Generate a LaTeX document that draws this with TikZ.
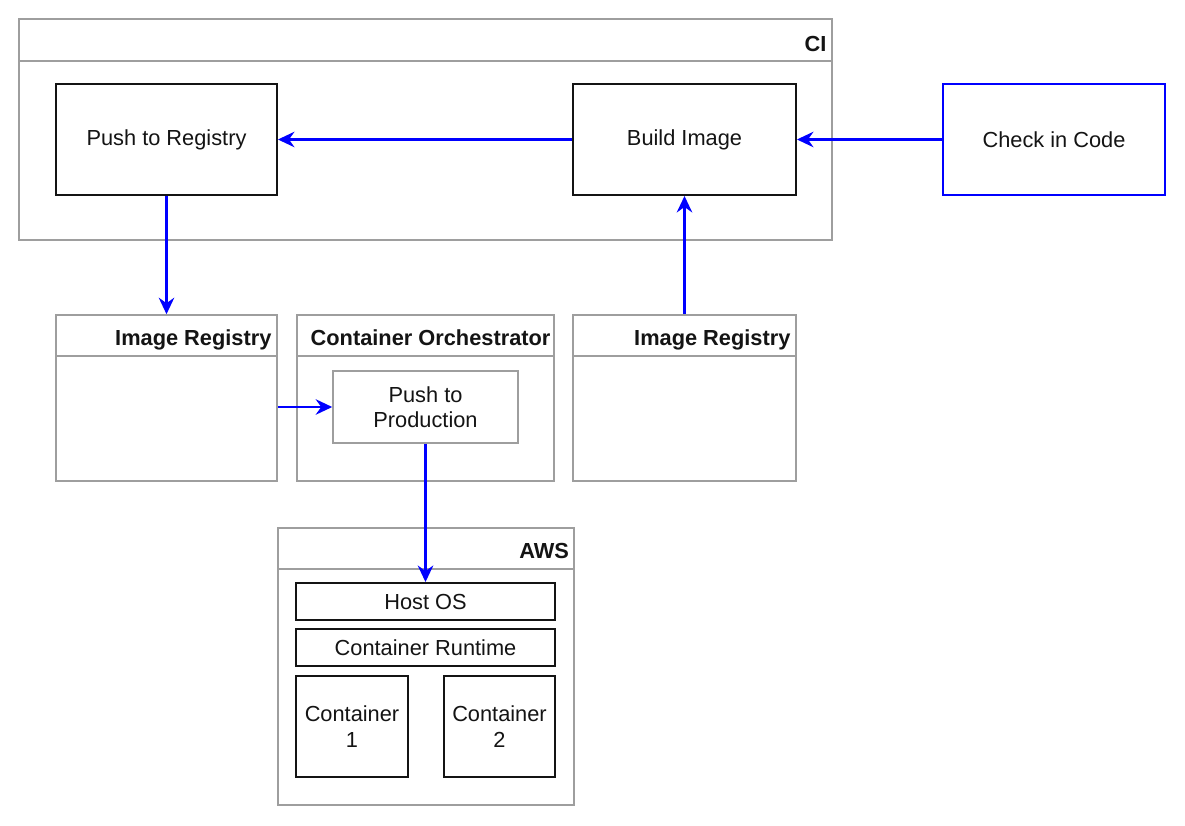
\documentclass[tikz,border=0pt]{standalone}
\usepackage{fontspec}
\setmainfont{Liberation Sans}
\usetikzlibrary{arrows.meta,positioning,calc}
\definecolor{flowblue}{HTML}{0000FF}
\definecolor{framegray}{HTML}{9E9E9E}
\definecolor{inkblack}{HTML}{141414}

\begin{document}
\begin{tikzpicture}[
    font=\fontsize{12.4}{14.4}\selectfont,
    >={Stealth[length=3.3mm, width=3.1mm, inset=1.1mm]},
    pool/.style={draw=framegray, line width=0.9pt, rectangle, inner sep=0pt},
    pooltitle/.style={font=\fontsize{12.4}{14.4}\selectfont\bfseries, anchor=base east,
                      inner sep=0pt, text=inkblack},
    header/.style={draw=framegray, line width=0.9pt},
    task/.style={draw=inkblack, line width=1.1pt, rectangle, align=center,
                 inner sep=2pt, text=inkblack},
    source/.style={task, draw=flowblue},
    soft/.style={task, draw=framegray, line width=0.9pt},
    flow/.style={->, draw=flowblue, line width=1.4pt},
]
    \useasboundingbox[fill=white] (0,0) rectangle (23.7,16.5);

    % ============================================================
    %  POOLS (titled frames)
    % ============================================================
    \node[pool, minimum width=16.26cm, minimum height=4.42cm] (ci)   at (8.51,13.91) {};
    \node[pool, minimum width=4.42cm,  minimum height=3.32cm] (regL) at (3.33,8.54)  {};
    \node[pool, minimum width=5.14cm,  minimum height=3.32cm] (orch) at (8.51,8.54)  {};
    \node[pool, minimum width=4.46cm,  minimum height=3.32cm] (regR) at (13.69,8.54) {};
    \node[pool, minimum width=5.92cm,  minimum height=5.54cm] (aws)  at (8.52,3.17)  {};

    % header rules
    \draw[header] ($(ci.north west)+(0,-0.86)$)   -- ($(ci.north east)+(0,-0.86)$);
    \draw[header] ($(regL.north west)+(0,-0.84)$) -- ($(regL.north east)+(0,-0.84)$);
    \draw[header] ($(orch.north west)+(0,-0.84)$) -- ($(orch.north east)+(0,-0.84)$);
    \draw[header] ($(regR.north west)+(0,-0.84)$) -- ($(regR.north east)+(0,-0.84)$);
    \draw[header] ($(aws.north west)+(0,-0.84)$)  -- ($(aws.north east)+(0,-0.84)$);

    % pool titles (right aligned on the baseline)
    \node[pooltitle] (citxt)   at ($(ci.north east)+(-0.12,-0.66)$)   {CI};
    \node[pooltitle] (regLtxt) at ($(regL.north east)+(-0.12,-0.62)$) {Image Registry};
    \node[pooltitle] (orchtxt) at ($(orch.north east)+(-0.08,-0.62)$) {Container Orchestrator};
    \node[pooltitle] (regRtxt) at ($(regR.north east)+(-0.12,-0.62)$) {Image Registry};
    \node[pooltitle] (awstxt)  at ($(aws.north east)+(-0.11,-0.62)$)  {AWS};

    % ============================================================
    %  TASKS
    % ============================================================
    \node[task, minimum width=4.42cm, minimum height=2.22cm] (pushreg) at (3.33,13.71)  {Push to Registry};
    \node[task, minimum width=4.46cm, minimum height=2.22cm] (build)   at (13.69,13.71) {Build Image};
    \node[source, minimum width=4.44cm, minimum height=2.22cm] (checkin) at (21.08,13.71) {Check in Code};

    \node[soft, minimum width=3.70cm, minimum height=1.44cm] (pushprod) at (8.51,8.36) {Push to\\Production};

    \node[task, minimum width=5.18cm, minimum height=0.74cm] (hostos)  at (8.51,4.47) {Host OS};
    \node[task, minimum width=5.18cm, minimum height=0.74cm] (runtime) at (8.51,3.55) {Container Runtime};
    \node[task, minimum width=2.24cm, minimum height=2.02cm] (cont1)   at (7.04,1.97) {Container\\1};
    \node[task, minimum width=2.22cm, minimum height=2.02cm] (cont2)   at (9.99,1.97) {Container\\2};

    % ============================================================
    %  FLOWS
    % ============================================================
    \draw[flow] (checkin.west) -- (build.east);
    \draw[flow] (build.west) -- (pushreg.east);
    \draw[flow] (pushreg.south) -- (pushreg.south |- regL.north);
    \draw[flow] (regR.north) -- (build.south);
    \draw[flow] (regL.east |- pushprod.west) -- (pushprod.west);
    \draw[flow] (pushprod.south) -- (pushprod.south |- hostos.north);

\end{tikzpicture}
\end{document}
